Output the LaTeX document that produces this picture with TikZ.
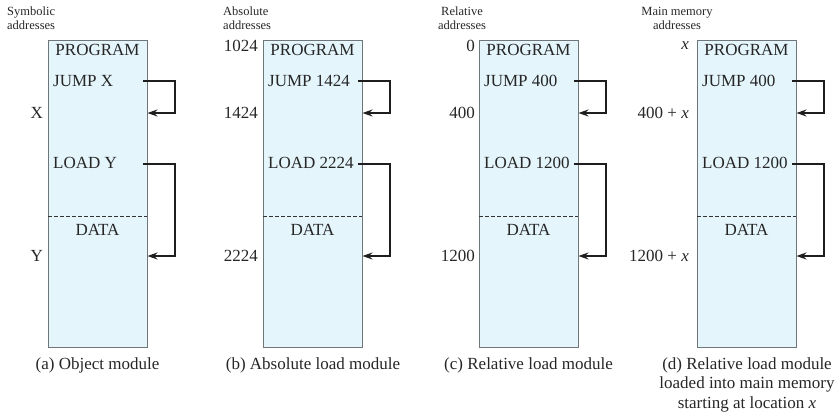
\documentclass[tikz,border=0pt]{standalone}
\usepackage{fontspec}
\setmainfont{Liberation Serif}
\usetikzlibrary{arrows.meta}
\definecolor{memfill}{HTML}{E4F5FC}
\definecolor{memedge}{HTML}{6E7679}
\definecolor{loopcol}{HTML}{1E1E1E}
\tikzset{
  membox/.style={draw=memedge, line width=1.4pt, fill=memfill, minimum width=99pt, minimum height=307pt, inner sep=0pt, anchor=north west},
  divider/.style={draw=black!80, dashed, line width=0.8pt, dash pattern=on 3.5pt off 2.5pt},
  memtext/.style={font=\fontsize{17}{20}\selectfont, inner sep=0pt, text=black!85},
  addrlab/.style={font=\fontsize{17}{20}\selectfont, inner sep=0pt, anchor=east, text=black!85},
  headlab/.style={font=\fontsize{12.5}{14}\selectfont, inner sep=0pt, text=black!85},
  caplab/.style={font=\fontsize{17}{19.5}\selectfont, inner sep=0pt, align=center, anchor=north, text=black!85},
  loopline/.style={draw=loopcol, line width=2pt, -{Stealth[length=10pt,width=7pt]}}
}
\newcommand\memmodule[4]{%
  % #1 id, #2 left x, #3 jump text, #4 load text
  \node[membox] (#1box) at (#2,40) {};
  \draw[divider] (#2,216) -- (#2+99,216);
  \node[memtext] (#1prog) at (#2+49.5,50) {PROGRAM};
  \node[memtext, anchor=west] (#1jump) at (#2+5,81) {#3};
  \node[memtext, anchor=west] (#1load) at (#2+5,163) {#4};
  \node[memtext] (#1data) at (#2+49.5,230) {DATA};
  \coordinate (#1js) at (#2+95,81);
  \coordinate (#1jc) at (#2+127,81);
  \coordinate (#1jt) at (#2+99.5,113);
  \coordinate (#1ls) at (#2+95,164);
  \coordinate (#1lc) at (#2+127,164);
  \coordinate (#1lt) at (#2+99.5,256);
  \draw[loopline] (#1js) -- (#1jc) |- (#1jt);
  \draw[loopline] (#1ls) -- (#1lc) |- (#1lt);
}
\begin{document}
\begin{tikzpicture}[x=1pt,y=-1pt]
\useasboundingbox (0,0) rectangle (837,413);
\memmodule{a}{48}{JUMP X}{LOAD Y}
\memmodule{b}{263}{JUMP 1424}{LOAD 2224}
\memmodule{c}{479}{JUMP 400}{LOAD 1200}
\memmodule{d}{697}{JUMP 400}{LOAD 1200}
% headings
\node[headlab, align=left, anchor=north west] (ahead) at (7,7) {Symbolic\\addresses};
\node[headlab, align=left, anchor=north west] (bhead) at (223,7) {Absolute\\addresses};
\node[headlab, align=center, anchor=north] (chead) at (462,7) {Relative\\addresses};
\node[headlab, align=center, anchor=north] (dhead) at (677,7) {Main memory\\addresses};
% address labels
\node[addrlab] (aX) at (43,113) {X};
\node[addrlab] (aY) at (43,256) {Y};
\node[addrlab] (b1024) at (258,46) {1024};
\node[addrlab] (b1424) at (258,113) {1424};
\node[addrlab] (b2224) at (258,256) {2224};
\node[addrlab] (c0) at (475,46) {0};
\node[addrlab] (c400) at (475,113) {400};
\node[addrlab] (c1200) at (475,256) {1200};
\node[addrlab] (dx) at (689,46) {\textit{x}};
\node[addrlab] (d400) at (689,113) {400 + \textit{x}};
\node[addrlab] (d1200) at (689,256) {1200 + \textit{x}};
% captions
\node[caplab] (acap) at (97.5,357) {(a) Object module};
\node[caplab] (bcap) at (313,357) {(b) Absolute load module};
\node[caplab] (ccap) at (528.5,357) {(c) Relative load module};
\node[caplab] (dcap) at (747,357) {(d) Relative load module\\loaded into main memory\\starting at location \textit{x}};
\end{tikzpicture}
\end{document}
